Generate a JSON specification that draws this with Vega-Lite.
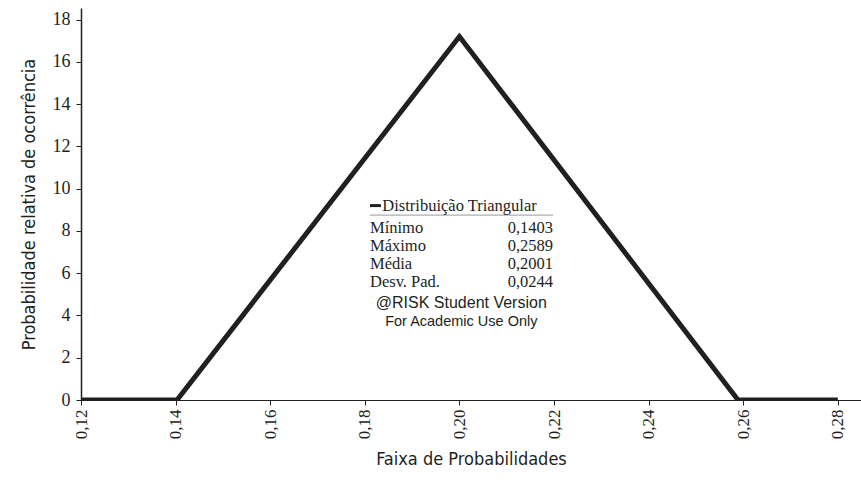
{
  "$schema": "https://vega.github.io/schema/vega-lite/v6.json",
  "width": 780,
  "height": 392,
  "autosize": "none",
  "padding": {"left": 81, "top": 8, "right": 0, "bottom": 85},
  "background": "white",
  "config": {"view": {"stroke": null}},
  "layer": [
    {
      "data": {"values": [
        {"x": 0.12, "y": 0},
        {"x": 0.1403, "y": 0},
        {"x": 0.2, "y": 17.2},
        {"x": 0.2589, "y": 0},
        {"x": 0.28, "y": 0}
      ]},
      "mark": {"type": "line", "color": "#231f20", "strokeWidth": 5, "strokeJoin": "miter", "strokeCap": "butt", "clip": true},
      "encoding": {
        "x": {"field": "x", "type": "quantitative", "scale": {"domain": [0.12, 0.2849], "nice": false, "zero": false},
          "axis": {"values": [0.12, 0.14, 0.16, 0.18, 0.2, 0.22, 0.24, 0.26, 0.28],
            "labelExpr": "replace(format(datum.value, '.2f'), '.', ',')",
            "labelAngle": 270, "labelAlign": "right", "labelBaseline": "middle",
            "labelFont": "Liberation Serif", "labelFontSize": 17, "labelColor": "#231f20",
            "labelPadding": 4, "tickSize": 5, "tickColor": "#231f20", "domainColor": "#231f20",
            "grid": false, "title": "Faixa de Probabilidades", "titleFont": "'DejaVu Sans Condensed', 'Open Sans', sans-serif",
            "titleFontSize": 18, "titleFontWeight": "normal", "titleColor": "#231f20", "titlePadding": 12}},
        "y": {"field": "y", "type": "quantitative", "scale": {"domain": [0, 18.55], "nice": false},
          "axis": {"values": [0, 2, 4, 6, 8, 10, 12, 14, 16, 18],
            "labelFont": "Liberation Serif", "labelFontSize": 18, "labelColor": "#231f20",
            "labelPadding": 6, "tickSize": 5, "tickColor": "#231f20", "domainColor": "#231f20", "domainWidth": 1.5,
            "grid": false, "title": "Probabilidade relativa de ocorrência", "titleFont": "'DejaVu Sans Condensed', 'Open Sans', sans-serif",
            "titleFontSize": 18, "titleFontWeight": "normal", "titleColor": "#231f20", "titlePadding": 14}}
      }
    },
    {
      "data": {"values": [
        {"x": 0.1811, "x2": 0.2198, "y": 8.75}
      ]},
      "mark": {"type": "rule", "color": "#999999", "strokeWidth": 1},
      "encoding": {
        "x": {"field": "x", "type": "quantitative"},
        "x2": {"field": "x2"},
        "y": {"field": "y", "type": "quantitative"}
      }
    },
    {
      "data": {"values": [
        {"x": 0.1811, "x2": 0.1834, "y": 9.2}
      ]},
      "mark": {"type": "rule", "color": "#231f20", "strokeWidth": 3},
      "encoding": {
        "x": {"field": "x", "type": "quantitative"},
        "x2": {"field": "x2"},
        "y": {"field": "y", "type": "quantitative"}
      }
    },
    {
      "data": {"values": [
        {"x": 0.1837, "y": 9.2, "t": "Distribuição Triangular"},
        {"x": 0.1811, "y": 8.15, "t": "Mínimo"},
        {"x": 0.1811, "y": 7.3, "t": "Máximo"},
        {"x": 0.1811, "y": 6.45, "t": "Média"},
        {"x": 0.1811, "y": 5.6, "t": "Desv. Pad."}
      ]},
      "mark": {"type": "text", "align": "left", "baseline": "middle", "font": "Liberation Serif", "fontSize": 16.5, "color": "#231f20"},
      "encoding": {
        "x": {"field": "x", "type": "quantitative"},
        "y": {"field": "y", "type": "quantitative"},
        "text": {"field": "t"}
      }
    },
    {
      "data": {"values": [
        {"x": 0.2198, "y": 8.15, "t": "0,1403"},
        {"x": 0.2198, "y": 7.3, "t": "0,2589"},
        {"x": 0.2198, "y": 6.45, "t": "0,2001"},
        {"x": 0.2198, "y": 5.6, "t": "0,0244"}
      ]},
      "mark": {"type": "text", "align": "right", "baseline": "middle", "font": "Liberation Serif", "fontSize": 16.5, "color": "#231f20"},
      "encoding": {
        "x": {"field": "x", "type": "quantitative"},
        "y": {"field": "y", "type": "quantitative"},
        "text": {"field": "t"}
      }
    },
    {
      "data": {"values": [
        {"x": 0.2004, "y": 4.6, "t": "@RISK Student Version", "s": 16},
        {"x": 0.2004, "y": 3.7, "t": "For Academic Use Only", "s": 14.5}
      ]},
      "mark": {"type": "text", "align": "center", "baseline": "middle", "font": "Liberation Sans", "color": "#231f20"},
      "encoding": {
        "x": {"field": "x", "type": "quantitative"},
        "y": {"field": "y", "type": "quantitative"},
        "text": {"field": "t"},
        "size": {"field": "s", "type": "quantitative", "scale": null, "legend": null}
      }
    }
  ]
}
